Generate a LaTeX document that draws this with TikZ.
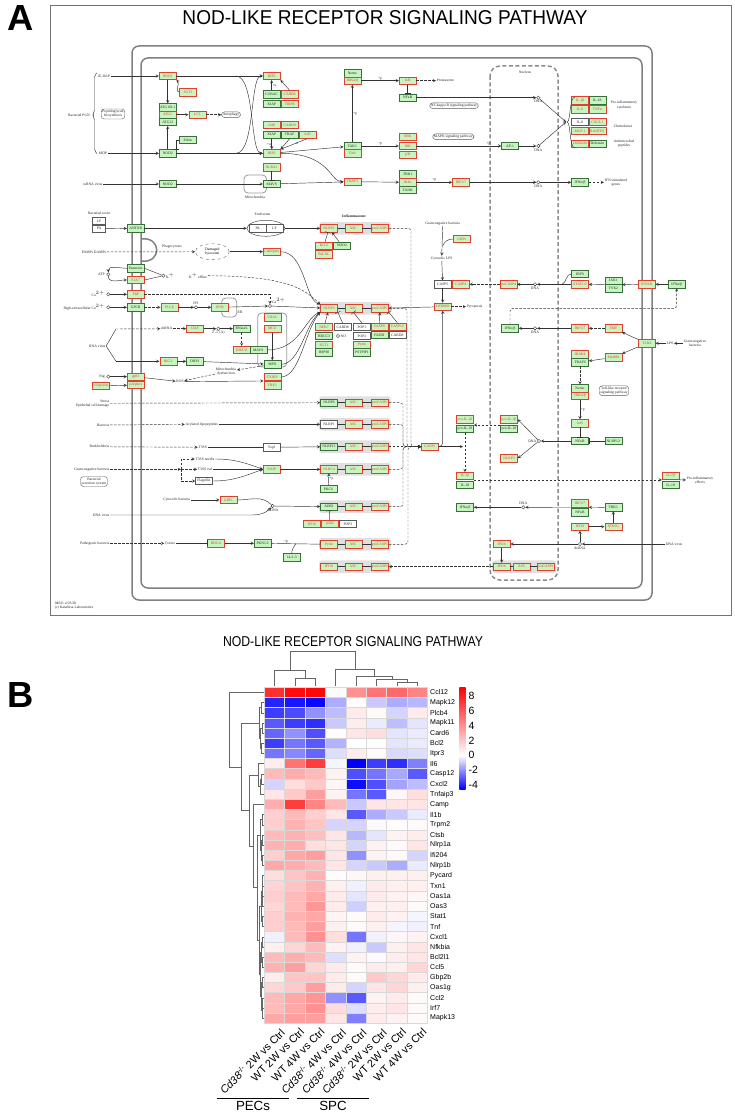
\documentclass[tikz,border=0pt]{standalone}
\usepackage{fontspec}
\setmainfont{Liberation Serif}
\newfontfamily\hsf{Liberation Sans}
\usetikzlibrary{positioning,shapes.geometric}
\definecolor{kg}{HTML}{C6F5C0}
\definecolor{kr}{HTML}{E0402F}
\definecolor{kdg}{HTML}{3A6E3A}
\newcommand{\kf}{\fontsize{3.7}{4.2}\selectfont}
\newcommand{\hmrow}[3]{%
  \foreach \hval [count=\hcol] in {#3} {%
    \pgfmathsetmacro{\hx}{264.3+(\hcol-1)*20.4}%
    \pgfmathsetmacro{\hy}{687.3+(#1-1)*10.18}%
    \ifdim\hval pt<0pt \pgfmathtruncatemacro{\hp}{min(100,-\hval*100/4.6)}\def\hc{blue}%
    \else \pgfmathtruncatemacro{\hp}{min(100,\hval*100/9.2)}\def\hc{red}\fi
    \fill[\hc!\hp!white, draw=black!15, line width=0.5] (\hx,\hy) rectangle ++(20.4,10.18);
  }%
  \node[glab] (g#1) at (430,{687.3+(#1-0.5)*10.18}) {#2};%
}
\newcommand{\dm}[5]{\draw[dend] (#1,#2) -- (#5,#2) -- (#5,#4) -- (#3,#4);}
\begin{document}
\begin{tikzpicture}[x=1pt, y=-1pt,
  gene/.style={rectangle, inner sep=0pt, minimum width=17, minimum height=7.4, font=\kf, fill=kg, line width=0.5},
  gr/.style={gene, draw=kr, text=kr},
  gg/.style={gene, draw=kdg, text=black!85},
  gw/.style={gene, fill=white, draw=black!65, text=black!85},
  lbl/.style={font=\kf, inner sep=0.6pt, align=center, text=black!85},
  pathw/.style={draw=black!65, rounded corners=3, font=\kf, align=center, inner sep=1.2pt, text=black!85},
  cpd/.style={circle, draw=black!80, fill=white, inner sep=0pt, minimum size=3.4, line width=0.4},
  arr/.style={->, >=stealth, line width=0.45, draw=black!80},
  darr/.style={arr, dash pattern=on 2.5pt off 1.5pt},
  inh/.style={-|, line width=0.45, draw=black!80},
  ln/.style={line width=0.45, draw=black!80},
  band/.style={fill=black!12, rounded corners=3},
  memb/.style={draw=black!50, line width=1.5, rounded corners=7},
  dend/.style={draw=black!60, line width=0.6},
  glab/.style={font=\hsf\fontsize{7}{8}\selectfont, anchor=west, inner sep=0pt},
  clab/.style={font=\hsf\fontsize{10.8}{12}\selectfont, rotate=45, anchor=north east, inner sep=0pt},
  cbtick/.style={font=\hsf\fontsize{10.5}{12}\selectfont, anchor=west, inner sep=0pt}
]
\useasboundingbox (0,0) rectangle (734,1113);

\draw[black!55, line width=0.7] (50,5) rectangle (731,615);
\node[anchor=base west, inner sep=0] (labA) at (7,31) {\resizebox{!}{25pt}{\hsf\bfseries A}};
\node[anchor=base, inner sep=0] (ttlA) at (385,25) {\resizebox{405pt}{14pt}{\hsf NOD-LIKE RECEPTOR SIGNALING PATHWAY}};

\draw[memb] (132,46) rectangle (652,600);
\draw[memb] (141,58) rectangle (642,588);
\draw[memb, rounded corners=0] (141,239) .. controls (162,236) and (162,264) .. (141,261);
\draw[black!45, line width=1.5, dash pattern=on 4pt off 2.5pt, rounded corners=10] (490,66) rectangle (558,580);
\node[lbl] (nuc) at (525,72) {Nucleus};
\draw[black!40, line width=0.8, rounded corners=4] (244,175) rectangle (266.5,193);
\node[lbl] (mitol) at (255,197.5) {Mitochondria};
\draw[black!40, line width=0.8, rounded corners=4] (257.7,313) rectangle (286.7,367);
\draw[black!40, line width=0.8, rounded corners=4] (221.7,298) rectangle (236.7,317);
\node[lbl] (erl) at (240,312) {ER};
\foreach \yy in {228.3,308.3,402.7,424.3,446.7,469.3,506.7,544.3,566.7}
  \fill[band] (319,\yy-6.3) rectangle (391,\yy+6.3);
\fill[band] (492,560.4) rectangle (556,573);
\node[lbl, font=\kf\bfseries] (inflam) at (354,216) {Inflammasome};

\node[lbl] (iedap) at (104,76) {iE-DAP};
\node[lbl] (bpgn) at (79,115) {Bacterial PGN};
\node[pathw] (pgbio) at (113,114) {Peptidoglycan\\biosynthesis};
\node[lbl] (mdp) at (103,153.3) {MDP};
\draw[ln, rounded corners=2] (97,73) -- (94.5,75) -- (94.5,112) -- (92,115) -- (94.5,118) -- (94.5,151) -- (97,153.5);
\node[lbl] (ssrna) at (92.7,184) {ssRNA virus};
\node[lbl] (btox) at (99,213) {Bacterial toxin};
\node[gw, minimum width=13] (lf1) at (99,221) {LF};
\node[gw, minimum width=13] (pa1) at (99,228.7) {PA};
\node[lbl] (pamps) at (94,252) {PAMPs DAMPs};
\node[lbl, anchor=east] (atp) at (105.5,274.3) {ATP};
\node[cpd] (atpc) at (108.3,274.3) {};
\node[lbl, anchor=east] (cal) at (105.5,294.3) {Ca$^{2+}$};
\node[cpd] (cac) at (108.3,294.3) {};
\node[lbl, anchor=east] (hcal) at (105.5,307.3) {High-extracellular Ca$^{2+}$};
\node[cpd] (hcac) at (108.3,307.3) {};
\node[lbl] (rnav) at (97.3,346) {RNA virus};
\node[lbl, anchor=east] (nigl) at (105.5,376.7) {Nig};
\node[cpd] (nigc) at (108.3,376.7) {};
\node[gr] (viro) at (101,386) {Viroporins};
\node[lbl, anchor=east, align=right] (stress) at (110,403.3) {Stress\\Epithelial cell damage};
\node[lbl, anchor=east] (bact) at (110,425) {Bacteria};
\node[lbl, anchor=east] (yers) at (110,446.7) {Burkholderia};
\node[lbl, anchor=east] (gneg) at (110,469.3) {Gram-negative bacteria};
\node[pathw] (bss) at (94,481.5) {Bacterial\\secretion system};
\node[lbl, anchor=east] (dnav) at (110,515) {DNA virus};
\node[lbl, anchor=east] (pathb) at (110,543.3) {Pathogenic bacteria};
\node[lbl, anchor=north west, align=left] (copy) at (54,601) {04621 4/23/20\\(c) Kanehisa Laboratories};

\node[gr] (nod1) at (167.7,76) {NOD1};
\node[gr] (sgt1a) at (188,92.3) {SGT1};
\node[gg] (atg16) at (167.7,107.3) {ATG16L1};
\node[gr] (atg5) at (167.7,114.7) {ATG5};
\node[gg] (atg12) at (167.7,122) {ATG12};
\node[gr] (lc3) at (197.3,114.7) {LC3};
\node[pathw] (autoph) at (231,114.7) {Autophagy};
\node[gg] (erbin) at (187.7,140) {Erbin};
\node[gg] (nod2a) at (167.7,153.3) {NOD2};
\node[gr] (rip2a) at (271.7,76) {RIP2};
\node[gg] (lubac) at (271.7,94.3) {LUBAC};
\node[gr] (card6) at (289.7,94.3) {CARD6};
\node[gg] (xiapa) at (271.7,104) {XIAP};
\node[gr] (trip6) at (289.7,104) {TRIP6};
\node[gr] (ciap) at (271.7,125) {cIAP};
\node[gr] (card9) at (289.7,125) {CARD9};
\node[gg] (xiapb) at (271.7,134.7) {XIAP};
\node[gg] (traf) at (289.7,134.7) {TRAF};
\node[gr] (a20) at (307.3,134.7) {A20};
\node[gr] (rip2b) at (271.7,153.3) {RIP2};
\node[gr] (nlrx1) at (271.7,167.3) {NLRX1};
\node[gg] (mavsa) at (271.7,184) {MAVS};
\node[gg] (nod2b) at (167.7,184) {NOD2};
\node[gg] (nemoa) at (352.3,73.3) {Nemo};
\node[gr] (ikka) at (352.3,80.7) {IKKα/β};
\node[gg] (tak1) at (352.3,146) {TAK1};
\node[gr] (tab) at (352.3,153.3) {TAB};
\node[gr] (traf3) at (352.3,181.7) {TRAF3};
\node[gr] (ikba) at (407.7,80.7) {IκB};
\node[lbl, anchor=west] (prot) at (436,80.7) {Proteasome};
\node[gg] (nfkba) at (407.7,97.7) {NFκB};
\node[pathw] (nfkbp) at (454,105.7) {NF-kappa B signaling pathway};
\node[cpd] (dna1) at (538.3,97.7) {};
\node[lbl, below=0pt of dna1] (dna1l) {DNA};
\node[gr] (erk) at (407.7,136.7) {ERK};
\node[gr] (jnk) at (407.7,146) {JNK};
\node[gr] (p38) at (407.7,155) {p38};
\node[pathw] (mapkp) at (453.3,136.7) {MAPK signaling pathway};
\node[gg] (ap1) at (510,146) {AP-1};
\node[cpd] (dna2) at (538.3,146) {};
\node[lbl, below=0pt of dna2] (dna2l) {DNA};
\node[gr] (il1ba) at (580,100.3) {IL-1β};
\node[gg] (il18a) at (597.3,100.3) {IL-18};
\node[gr] (il6) at (580,109.3) {IL-6};
\node[gr] (tnfa) at (597.3,109.3) {TNFα};
\node[gw] (il8) at (580,122) {IL-8};
\node[gr] (cxcl1) at (597.3,122) {CXCL1};
\node[gr] (mcp1) at (580,131) {MCP-1};
\node[gr] (rantes) at (597.3,131) {RANTES};
\node[gr] (defa) at (580,143.7) {Defensin};
\node[gg] (defb) at (597.3,143.7) {Defensin};
\node[lbl] (cyt) at (624,105) {Pro-inflammatory\\cytokines};
\node[lbl] (chem) at (623,126.7) {Chemokines};
\node[lbl] (amp) at (624,143.3) {Antimicrobial\\peptides};
\node[gg] (tbk1a) at (407.7,174.3) {TBK1};
\node[gr] (ikke) at (407.7,182.3) {IKKε};
\node[gg] (tank) at (407.7,190) {TANK};
\node[gr] (irf37a) at (461,182.3) {IRF3/7};
\node[cpd] (dna3) at (538.3,182.3) {};
\node[lbl, below=0pt of dna3] (dna3l) {DNA};
\node[gg] (ifnab1) at (580,182.3) {IFNα/β};
\node[lbl, anchor=west] (isg) at (604,182.3) {IFN stimulated\\genes};

\node[gg] (antxr) at (135.7,228.3) {ANTXR};
\node[draw=black!70, ellipse, minimum width=38, minimum height=16, inner sep=0, line width=0.5] (endo) at (266,228.3) {};
\node[gw, minimum width=16.7] (pa2) at (257.7,228.3) {PA};
\node[gw, minimum width=16.7] (lf2) at (274.4,228.3) {LF};
\node[lbl] (endol) at (262.5,214) {Endosome};
\node[gr] (bcl2) at (324,245.7) {Bcl-2};
\node[gg] (nod2c) at (342,245.7) {NOD2};
\node[gr] (bclxl) at (324,254.3) {Bcl-XL};
\node[lbl] (phag) at (172,246.7) {Phagocytosis};
\node[draw=black!60, dashed, ellipse, minimum width=34, minimum height=16, inner sep=0, font=\kf, align=center] (lyso) at (212.3,251.7) {Damaged\\lysosome};
\node[gr] (cathep) at (271.7,251.7) {Cathepsin};
\node[gg] (pannex) at (135.7,268.3) {Pannexin};
\node[gr] (p2x7) at (135.7,280) {P2X7};
\node[cpd] (kc) at (163.3,275.7) {};
\node[lbl, right=0pt of kc] (kl) {K$^+$};
\node[lbl] (keff) at (198,275.7) {K$^+$ efflux};
\node[gr] (trp) at (135.7,294.3) {TRP};
\node[gg] (gpcr) at (135.7,307.3) {GPCR};
\node[gr] (plcb) at (169.3,307.3) {PLCβ};
\node[cpd] (ip3c) at (196,307.3) {};
\node[lbl, above=0pt of ip3c] (ip3l) {IP3};
\node[gr] (ip3r) at (220,307.3) {IP3R};
\node[cpd] (ca2) at (270,306) {};
\node[lbl, above right=0pt of ca2] (ca2l) {Ca$^{2+}$};
\node[gr] (vdac) at (272.3,317.3) {VDAC};
\node[gr] (mcu) at (272.3,328.7) {MCU};
\node[lbl] (dsrna) at (166.7,328.7) {dsRNA};
\node[gr] (oas) at (195,328.7) {OAS};
\node[cpd] (c25) at (218.3,328.7) {};
\node[lbl, below=0pt of c25] (c25l) {2'-5'(A)};
\node[gg] (rnasel) at (241.7,328.7) {RNaseL};
\node[gr] (dhx33) at (241.7,350) {DHX33};
\node[gg] (mavs2) at (258.3,350) {MAVS};
\node[gr] (rigi) at (168.3,361.3) {RIG-I};
\node[gg] (drp1) at (195,361.3) {DRP1};
\node[gg] (mfn) at (272.3,364.3) {MFN};
\node[lbl] (mitodys) at (226,371.7) {Mitochondria\\dysfunction};
\node[gr] (nek7) at (324,327) {NEK7};
\node[gw] (card8) at (342.7,327) {CARD8};
\node[gw] (pop1) at (362,327) {POP1};
\node[gg] (brcc3) at (324,336) {BRCC3};
\node[cpd] (noc) at (338,336) {};
\node[lbl, right=0pt of noc] (nol) {NO};
\node[gw] (pop2) at (362,336) {POP2};
\node[gr] (sgt1b) at (324,345) {SGT1};
\node[gg] (hsp90) at (324,352.3) {HSP90};
\node[gr] (pyrina) at (362,345) {Pyrin};
\node[gg] (pstpip) at (362,352.3) {PSTPIP1};
\node[gr] (txnip) at (272.3,377) {TXNIP};
\node[gr] (trx1) at (272.3,385.3) {TRX1};
\node[gr] (gp91) at (135.7,376.7) {gp91};
\node[gr] (p22) at (135.7,385) {p22phox};
\node[lbl] (ros) at (180,381.7) {ROS};

\foreach \yy/\n/\s/\t in {228.3/1/gr/NLRP1, 308.3/2/gr/NLRP3, 402.7/3/gg/NLRP6, 424.3/4/gw/NLRP1, 446.7/5/gg/NLRP12, 469.3/6/gr/NLRC4, 506.7/7/gg/AIM2, 544.3/8/gr/Pyrin, 566.7/9/gr/IFI16} {
  \node[\s] (nl\n) at (329,\yy) {\t};
  \node[gr] (asc\n) at (353.3,\yy) {ASC};
  \node[gr] (pc\n) at (380,\yy) {proCASP1};
  \draw[ln] (nl\n) -- (asc\n) (asc\n) -- (pc\n);
}

\node[lbl] (gnb) at (442.7,224) {Gram-negative bacteria};
\node[gr] (gbps1) at (461.7,239) {GBPs};
\node[lbl] (clps) at (441.7,258.3) {Cytosolic LPS};
\node[gw] (casp5) at (442.7,284.3) {CASP5};
\node[gr] (casp4) at (460.7,284.3) {CASP4};
\node[gr] (procasp4) at (508.3,284.3) {proCASP4};
\node[cpd] (dna4) at (535,284.3) {};
\node[lbl, below=0pt of dna4] (dna4l) {DNA};
\node[gg] (irf9) at (580,274) {IRF9};
\node[gr] (stat12) at (580,284.3) {STAT1/2};
\node[gg] (jak1) at (613.3,280.7) {JAK1};
\node[gg] (tyk2) at (613.3,288.3) {TYK2};
\node[gr] (ifnar) at (646.7,284.3) {IFNAR};
\node[gg] (ifnab2) at (676.7,284.3) {IFNα/β};
\node[gr] (gsdmd) at (442.7,306.7) {GSDMD};
\node[lbl, anchor=west] (pyro) at (466,306.7) {Pyroptosis};
\node[gr] (casp8) at (379.3,326.7) {CASP8};
\node[gg] (fadd) at (379.3,335) {FADD};
\node[gr] (casp12) at (397.3,326.7) {CASP12};
\node[gw] (card8b) at (397.3,335) {CARD8};
\node[gg] (ifnab3) at (510,328.3) {IFNα/β};
\node[cpd] (dna5) at (535,328.3) {};
\node[lbl, below=0pt of dna5] (dna5l) {DNA};
\node[gr] (irf37b) at (580,328.3) {IRF3/7};
\node[gr] (trif) at (613.3,328.3) {TRIF};
\node[gr] (tlr4) at (646.7,343.3) {TLR4};
\node[lbl] (lps) at (670,343.3) {LPS};
\node[lbl, anchor=west] (gnb2) at (683,343.3) {Gram-negative\\bacteria};
\node[gr] (irak4) at (580,354.3) {IRAK4};
\node[gg] (traf6) at (580,362.3) {TRAF6};
\node[gr] (myd88) at (613.3,357.3) {MyD88};

\node[gg] (nemob) at (580,388.3) {Nemo};
\node[gr] (ikkb) at (580,396) {IKKα/β};
\node[pathw] (tlrp) at (614,390.7) {Toll-like receptor\\signaling pathway};
\node[gr] (ikbb) at (580,423.3) {IκB};
\node[gg] (nfkbb) at (580,441) {NFκB};
\node[gg] (nlrp12b) at (613.3,441) {NLRP12};
\node[cpd] (dna6) at (539,441) {};
\node[lbl, left=0pt of dna6] (dna6l) {DNA};
\node[gr] (proil1ba) at (509,419.3) {pro-IL-1β};
\node[gg] (proil18a) at (509,429) {pro-IL-18};
\node[gr] (nlrp3b) at (509,458.3) {NLRP3};
\node[gr] (proil1bb) at (465,419.3) {pro-IL-1β};
\node[gg] (proil18b) at (465,429) {pro-IL-18};
\node[gr] (casp1) at (430,446.7) {CASP1};
\node[gr] (il1bb) at (465,476) {IL-1β};
\node[gg] (il18b) at (465,485) {IL-18};
\node[gr] (il1bc) at (670.7,476) {IL-1β};
\node[gg] (il18c) at (670.7,485) {IL-18};
\node[lbl, anchor=west] (proeff) at (686,480) {Pro-inflammatory\\effects};
\node[gg] (ifnab4) at (465,507.3) {IFNα/β};
\node[cpd] (dna7) at (523.3,507.3) {};
\node[lbl, above=0pt of dna7] (dna7l) {DNA};
\node[gr] (irf37c) at (580,503.3) {IRF3/7};
\node[gg] (nfkbc) at (580,512.3) {NFκB};
\node[gg] (tbk1b) at (613.3,507.3) {TBK1};
\node[gr] (ifi16a) at (580,526.7) {IFI16};
\node[gr] (sting) at (613.3,526.7) {STING};
\node[cpd] (dsdna2) at (580,544) {};
\node[lbl, below=0pt of dsdna2] (dsdna2l) {dsDNA};
\node[lbl, anchor=west] (dnav2) at (665,544) {DNA virus};
\node[gr] (ifi16b) at (501.7,544) {IFI16};
\node[gr] (ifi16c) at (501.7,566.7) {IFI16};
\node[gr] (asc10) at (521.7,566.7) {ASC};
\node[gr] (pc10) at (545.7,566.7) {proCASP1};

\node[lbl] (acyl) at (201.7,424.3) {Acylated lipopeptides};
\node[lbl] (t3ss) at (202.7,447.3) {T3SS};
\node[gw] (yopj) at (271.7,447.3) {YopJ};
\node[lbl] (t3n) at (205,459) {T3SS needle};
\node[lbl] (t3r) at (205,469.3) {T3SS rod};
\node[gw] (flag) at (204,481) {Flagellin};
\node[gr] (naip) at (271.7,469.3) {NAIP};
\node[gg] (pkcd) at (328.3,489) {PKCδ};
\node[lbl] (cbact) at (176.7,500) {Cytosolic bacteria};
\node[gr] (gbps2) at (228.3,500) {GBPs};
\node[cpd] (dsdna1) at (272.7,506) {};
\node[lbl, below=0pt of dsdna1] (dsdna1l) {dsDNA};
\node[gr] (ifi16d) at (312.2,524) {IFI16};
\node[gr] (p202) at (330,524) {p202};
\node[gw] (pop3) at (348,524) {POP3};
\node[lbl] (toxins) at (170,543.3) {Toxins};
\node[gr] (rhoa) at (216,543.3) {RHOA};
\node[gg] (pkn) at (262.7,543.3) {PKN1/2};
\node[gg] (p1433) at (291.7,557.3) {14-3-3};

\draw[arr] (iedap) -- (nod1);
\draw[arr] (nod1) -- (rip2a);
\draw[arr] (mdp) -- (nod2a);
\draw[arr] (nod2a) -- (rip2b);
\draw[arr] (nod1) -- (atg16);
\draw[arr] (nod2a) -- (atg12);
\draw[arr] (sgt1a.west) to[out=180,in=-45] (nod1.south east);
\draw[arr] (atg5) -- (lc3);
\draw[darr] (lc3) -- (autoph);
\draw[inh] (erbin.west) -| (nod2a.north east);
\coordinate (xa) at (236,76);
\coordinate (xb) at (236,153.3);
\draw[arr] (xa) .. controls (255,76) and (250,153.3) .. (rip2b.west);
\draw[arr] (xb) .. controls (255,153.3) and (250,76) .. (rip2a.west);
\draw[arr] (lubac) -- node[lbl, right] (pu1) {+u} (rip2a);
\draw[arr] (card6.north) -- (rip2a.south east);
\draw[arr] (xiapb) -- node[lbl, left] (pu2) {+u} (rip2b);
\draw[arr] (traf.south) -- (rip2b.north east);
\draw[arr] (a20.south) -- node[lbl, right] (pu3) {-u} (rip2b.north east);
\draw[arr] (ssrna) -- (nod2b);
\draw[arr] (nod2b) -- (mavsa);
\draw[inh] (nlrx1) -- (mavsa);
\draw[arr] (rip2b) -- (tak1);
\draw[arr] (rip2b.east) .. controls (330,153.3) and (330,181.7) .. (traf3.west);
\draw[arr] (mavsa) -- (traf3);
\draw[arr] (tak1) -- node[lbl, right] (pp1) {+p} (ikka);
\draw[arr] (ikka) -- node[lbl, above] (pp2) {+p} (ikba);
\draw[darr] (ikba) -- (prot);
\draw[inh] (ikba) -- (nfkba);
\draw[arr] (nfkba) -- (dna1);
\draw[arr] (tak1) -- node[lbl, above] (pp3) {+p} (jnk);
\draw[arr] (jnk) -- node[lbl, above, pos=0.85] (pp4) {+p} (ap1);
\draw[arr] (ap1) -- (dna2);
\coordinate (ckb) at (566,122);
\draw[arr] (dna1) -- (ckb);
\draw[arr] (dna2) -- (ckb);
\draw[ln] (575,97) .. controls (569,97) and (571,122) .. (567,122) .. controls (571,122) and (569,148) .. (575,148);
\draw[arr] (traf3) -- (ikke);
\draw[arr] (ikke) -- node[lbl, above] (pp5) {+p} (irf37a);
\draw[arr] (irf37a) -- (dna3);
\draw[arr] (dna3) -- (ifnab1);
\draw[darr] (ifnab1) -- (isg);

\draw[arr] (pa1) -- (antxr);
\draw[arr] (antxr) -- (endo);
\draw[arr] (endo) -- (nl1);
\draw[inh] (bcl2) -- (nl1);
\draw[arr] (nod2c) -- (nl1);
\draw[darr] (pamps) -- (lyso);
\draw[arr] (lyso) -- (cathep);
\draw[arr] (cathep.east) .. controls (305,251.7) and (305,300) .. (nl2.north west);
\draw[arr] (pannex.west) to[out=180,in=90] (atpc);
\draw[arr] (atpc) to[out=-90,in=180] (p2x7.west);
\draw[ln] (pannex.east) -- (kc);
\draw[ln] (p2x7.east) -- (kc);
\draw[darr] (keff.east) .. controls (290,276) and (305,290) .. (nl2.north west);
\draw[arr] (cac) -- (trp);
\draw[darr] (trp) -| (ca2);
\draw[arr] (hcac) -- (gpcr);
\draw[darr] (gpcr) -- (plcb);
\draw[arr] (plcb) -- (ip3c);
\draw[arr] (ip3c) -- (ip3r);
\draw[arr] (ip3r) -- (ca2);
\draw[arr] (ca2) -- (nl2);
\draw[darr] (dsrna) -- (oas);
\draw[arr] (oas) -- (c25);
\draw[arr] (c25) -- (rnasel);
\draw[darr] (rnasel) -- (dhx33);
\draw[arr] (mavs2.east) .. controls (300,350) and (305,318) .. (nl2.south west);
\draw[arr] (mcu) -- (mfn);
\draw[arr] (rigi) -- (drp1);
\draw[arr] (drp1) -- (mfn);
\draw[darr] (mfn) -- (mitodys);
\draw[darr] (mitodys) -- (ros);
\draw[arr] (gp91) -- (ros);
\draw[arr] (ros) -- (txnip.south west);
\draw[arr] (txnip.east) .. controls (300,377) and (305,330) .. (nl2.south west);
\draw[arr] (mfn.east) .. controls (300,364) and (305,325) .. (nl2.south west);
\draw[arr] (nigc) -- (gp91);
\draw[arr] (viro) -- (p22);
\coordinate (rv1) at (116,329);
\coordinate (rv2) at (116,361.3);
\draw[ln] (rv1) -- (rnav.east) -- (rv2);
\draw[darr] (rv1) -- (dsrna);
\draw[arr] (rv2) -- (rigi);
\draw[arr] (nek7) -- (nl2);
\draw[inh] (card8.north) -- (nl2.south east);
\draw[inh] (pop1.north) -- (asc2.south);
\draw[arr] (casp8) -- (pc2);
\draw[inh] (casp12.north) -- (pc2.south east);

\draw[arr] (gnb) -- (clps);
\coordinate (gj) at (442.7,246);
\draw[ln] (gbps1.west) to[out=180,in=70] (gj);
\draw[arr] (clps) -- (casp5);
\draw[arr] (casp5) -- (gsdmd);
\draw[darr] (gsdmd) -- (pyro);
\draw[arr] (gsdmd) -- (pc2);
\draw[darr] (procasp4) -- (casp4);
\draw[arr] (dna4) -- (procasp4);
\draw[arr] (stat12) -- (dna4);
\draw[ln] (irf9.west) to[out=180,in=30] ([xshift=-9pt]stat12.west);
\draw[arr] (ifnab2) -- (ifnar);
\draw[arr] (ifnar) -- (jak1.south east);
\draw[arr] (jak1.south west) -- (stat12);
\draw[arr] (gnb2) -- (lps);
\draw[arr] (lps) -- (tlr4);
\draw[arr] (tlr4) -- (trif);
\draw[darr] (trif) -- (irf37b);
\draw[arr] (irf37b) -- (dna5);
\draw[arr] (dna5) -- (ifnab3);
\draw[darr, rounded corners=3] (ifnab3.north) -- ++(0,-16) -| (ifnab2.south);
\draw[arr] (tlr4) -- (myd88);
\draw[arr] (myd88) -- (traf6);
\draw[darr] (traf6) -- (nemob);
\draw[arr] (ikkb) -- node[lbl, right] (pp6) {+p} (ikbb);
\draw[inh] (ikbb) -- (nfkbb);
\draw[inh] (nlrp12b) -- (nfkbb);
\draw[arr] (nfkbb) -- (dna6);
\draw[arr] (dna6) -- (proil1ba.east);
\draw[arr] (dna6) -- (nlrp3b.east);
\draw[darr] (proil18a.north west) -- (proil18b.north east);
\foreach \n/\xx in {1/411,2/407,3/403,4/403,6/403,7/403,8/408}
  \draw[darr, rounded corners=3] (pc\n.east) -| (\xx,446.7) -- (casp1.west);
\draw[darr] (pc5) -- (casp1);
\draw[arr, rounded corners=4] (casp1.east) -| (gsdmd.south);
\coordinate (cl) at (463,446.7);
\draw[arr] (casp1) -- (cl);
\draw[darr] (proil18b) -- (il1bb);
\draw[darr] (il1bb.south east) -- (il1bc.south west);
\draw[arr] (il1bc.south east) -- (proeff);
\draw[arr] (dnav2) -- (dsdna2);
\draw[arr] (dsdna2) -- (ifi16a);
\draw[arr] (dsdna2) -- (ifi16b);
\draw[arr] (ifi16a) -- (sting);
\draw[arr] (sting) -- (tbk1b);
\draw[arr] (tbk1b) -- (irf37c.south east);
\draw[arr] (irf37c.south west) -- (dna7);
\draw[arr] (dna7) -- (ifnab4);
\draw[arr] (ifi16b) -- (ifi16c);
\draw[darr] (ifi16c) -- (pc9);
\draw[ln] (ifi16c) -- (asc10) (asc10) -- (pc10);

\draw[darr] (stress) -- (nl3);
\draw[darr] (bact) -- (acyl);
\draw[arr] (acyl) -- (nl4);
\draw[darr] (yers) -- (t3ss);
\draw[ln] (t3ss) -- (yopj);
\draw[arr] (yopj) -- (nl5);
\coordinate (gsp) at (181,469.3);
\draw[darr] (gneg) -- (gsp);
\draw[darr] (gsp) |- (t3n);
\draw[darr] (gsp) -- (t3r);
\draw[darr] (gsp) |- (flag);
\draw[arr] (t3n.east) to[out=0,in=160] (naip.west);
\draw[arr] (t3r) -- (naip);
\draw[arr] (flag.east) to[out=0,in=200] (naip.west);
\draw[arr] (naip) -- (nl6);
\draw[arr] (pkcd) -- node[lbl, right] (pp7) {+p} (nl6);
\draw[arr] (cbact) -- (gbps2);
\draw[ln] (gbps2.east) to[out=0,in=135] (dsdna1);
\coordinate (dvc) at (252,515);
\draw[arr] (dnav) -- (dvc) to[out=0,in=-135] (dsdna1);
\draw[arr] (dsdna1) -- (nl7);
\draw[inh] (p202) -- (nl7);
\draw[darr] (pathb) -- (toxins);
\draw[inh] (toxins) -- (rhoa);
\draw[arr] (rhoa) -- (pkn);
\draw[inh] (pkn) -- node[lbl, above, pos=0.3] (pp8) {+p} (nl8);
\coordinate (pk) at (296,543.3);
\draw[ln] (p1433.north) to[out=90,in=-120] (pk);

\node[anchor=base west, inner sep=0] (labB) at (7,707) {\resizebox{!}{25pt}{\hsf\bfseries B}};
\node[anchor=base, inner sep=0] (ttlB) at (353,646.7) {\resizebox{260pt}{10pt}{\hsf NOD-LIKE RECEPTOR SIGNALING PATHWAY}};

\hmrow{1}{Ccl12}{7.5,8.8,9,0.2,4,5,5.5,4.5}
\hmrow{2}{Mapk12}{-4,-4.2,-4.5,-1.5,0.1,-1,-1.5,-1.3}
\hmrow{3}{Plcb4}{-3.5,-3.3,-2,-1.2,0.8,0.2,-0.8,0.8}
\hmrow{4}{Mapk11}{-3,-3.5,-3.8,-1,0.7,-0.4,-1.2,-0.5}
\hmrow{5}{Card6}{-2.8,-2,-3.2,0.1,1,1.2,-0.5,-0.4}
\hmrow{6}{Bcl2}{-3.5,-2.5,-3,-1.4,0,0.1,-0.5,-0.4}
\hmrow{7}{Itpr3}{-2.5,-2.2,-2.8,-0.6,0.7,0.2,-0.7,-0.6}
\hmrow{8}{Il6}{0.7,5,7,-0.2,-4.6,-3.5,-3.8,-2.3}
\hmrow{9}{Casp12}{2.5,3,2.5,0.5,-3.2,-2.5,-1.6,-3}
\hmrow{10}{Cxcl2}{-0.8,1.2,2,0.3,-4.4,-3.2,-1.7,-1.2}
\hmrow{11}{Tnfaip3}{1,2,3.5,0.5,-2.5,-3,0.3,1.2}
\hmrow{12}{Camp}{3,7,4.5,2.5,-1,1,1,1}
\hmrow{13}{Il1b}{1.8,2.5,1.8,1,-3,-1.5,-1,-0.4}
\hmrow{14}{Trpm2}{1.8,2.8,2.2,-0.8,-0.8,-0.1,0.1,0.2}
\hmrow{15}{Ctsb}{2.5,2.8,2.3,1,-1.3,-0.5,0.5,0.7}
\hmrow{16}{Nlrp1a}{2.8,3,1.2,1,-0.8,0.5,0.2,1}
\hmrow{17}{Ifi204}{1.8,3.2,3.5,1,-2,0.5,0.2,-0.8}
\hmrow{18}{Nlrp1b}{3.2,3,2.5,1,-0.8,-1,-1.5,-0.4}
\hmrow{19}{Pycard}{1.2,2.2,2.8,0.1,0.3,0.6,0.6,0.6}
\hmrow{20}{Txn1}{1.6,2.2,2.8,0.6,-0.3,0.8,0.6,0.6}
\hmrow{21}{Oas1a}{1.8,2.5,3.2,0.8,-0.5,0.8,0.5,0.3}
\hmrow{22}{Oas3}{1.5,2.5,3.8,0.8,-0.9,0.6,0.6,0.2}
\hmrow{23}{Stat1}{1.8,2.8,3.2,0.4,0.2,0.8,0.5,-0.2}
\hmrow{24}{Tnf}{1.8,2.5,3.5,0.6,0.2,0.6,-0.2,-0.3}
\hmrow{25}{Cxcl1}{-0.3,2.5,4,1.2,-2.5,-0.3,0.3,0.5}
\hmrow{26}{Nfkbia}{0.6,1.5,2.5,0.5,-0.3,-1,0.6,1}
\hmrow{27}{Bcl2l1}{2.5,3,2.5,-0.6,0.5,-0.1,0.7,1}
\hmrow{28}{Ccl5}{2.8,3.5,1.5,0.8,0.2,0.8,0.6,1.5}
\hmrow{29}{Gbp2b}{0.7,2.2,2.2,0.8,0.2,2,1.5,0.8}
\hmrow{30}{Oas1g}{1.5,2,3.5,0.8,-0.8,1,1.5,0.6}
\hmrow{31}{Ccl2}{2.5,3.2,3.8,-2,-3,0.5,0.8,0.2}
\hmrow{32}{Irf7}{2.5,3.2,4,1.3,-0.6,0.7,1,0.2}
\hmrow{33}{Mapk13}{3.2,3.5,3.5,1,-2.3,0.8,0.5,0.2}

\draw[dend] (294.9,686) -- (294.9,678.3) -- (315.3,678.3) -- (315.3,686);
\draw[dend] (274.5,686) -- (274.5,670.7) -- (305.1,670.7) -- (305.1,678.3);
\draw[dend] (396.9,686) -- (396.9,682.7) -- (417.3,682.7) -- (417.3,686);
\draw[dend] (376.5,686) -- (376.5,679.3) -- (407.1,679.3) -- (407.1,682.7);
\draw[dend] (356.1,686) -- (356.1,676) -- (391.8,676) -- (391.8,679.3);
\draw[dend] (335.7,686) -- (335.7,669.3) -- (374,669.3) -- (374,676);
\draw[dend] (289.8,670.7) -- (289.8,651.7) -- (354.8,651.7) -- (354.8,669.3);

\dm{264}{702.6}{264}{712.8}{261.5}
\dm{264}{723.0}{264}{733.1}{261.8}
\dm{264}{743.3}{264}{753.5}{261.5}
\dm{261.8}{728.05}{261.5}{748.4}{260.5}
\dm{261.5}{707.7}{260.5}{738.2}{259.5}
\dm{264}{773.9}{264}{784.1}{261}
\dm{261}{779}{264}{794.2}{260}
\dm{264}{763.7}{260}{786.6}{258}
\dm{264}{814.6}{264}{824.8}{262}
\dm{264}{835.0}{264}{845.1}{262.3}
\dm{264}{855.3}{264}{865.5}{262}
\dm{262.3}{840.05}{262}{860.4}{261.3}
\dm{262}{819.7}{261.3}{850.2}{260.3}
\dm{264}{875.7}{264}{885.9}{262.5}
\dm{264}{896.0}{264}{906.2}{262.5}
\dm{262.5}{880.8}{262.5}{901.1}{261.8}
\dm{264}{916.4}{264}{926.6}{262.5}
\dm{261.8}{891}{262.5}{921.5}{261.2}
\dm{264}{936.8}{264}{947.0}{262}
\dm{264}{957.1}{264}{967.3}{262.3}
\dm{262}{941.9}{262.3}{962.2}{261.3}
\dm{264}{977.5}{264}{987.7}{262.3}
\dm{264}{997.9}{264}{1008.0}{262.5}
\dm{262.5}{1003}{264}{1018.2}{261.8}
\dm{262.3}{982.6}{261.8}{1010.6}{261}
\dm{261.3}{952}{261}{996.6}{260.5}
\dm{261.2}{906.2}{260.5}{974.3}{259.5}
\dm{260.3}{835}{259.5}{940.3}{257.5}
\dm{264}{804.4}{257.5}{887.6}{253.3}
\dm{258}{775.2}{253.3}{846}{249.3}
\dm{259.5}{723}{249.3}{810.6}{241.7}
\dm{264}{692.4}{241.7}{766.8}{229.3}

\shade[top color=red, bottom color=white] (459.3,687.3) rectangle (465.7,755.3);
\shade[top color=white, bottom color=blue] (459.3,755.3) rectangle (465.7,789.3);
\foreach \tv in {8,6,4,2,0,-2,-4}
  \node[cbtick] (cb\tv) at (468.5,{755.3-\tv*7.4}) {\tv};

\foreach \t [count=\i] in {{\textit{Cd38}\textsuperscript{-/-} 2W vs Ctrl},{WT 2W vs Ctrl},{WT 4W vs Ctrl},{\textit{Cd38}\textsuperscript{-/-} 4W vs Ctrl},{\textit{Cd38}\textsuperscript{-/-} 4W vs Ctrl},{\textit{Cd38}\textsuperscript{-/-} 2W vs Ctrl},{WT 2W vs Ctrl},{WT 4W vs Ctrl}}
  \node[clab] (cl\i) at ({264.3+20.4*(\i-0.5)+4.5},1027) {\t};

\draw[line width=1] (216.7,1098.3) -- (289,1098.3);
\draw[line width=1] (297.3,1098.3) -- (369.3,1098.3);
\node[font=\hsf\fontsize{13.3}{14}\selectfont, anchor=base, inner sep=0] (pecs) at (253,1110.5) {PECs};
\node[font=\hsf\fontsize{13.3}{14}\selectfont, anchor=base, inner sep=0] (spc) at (333,1110.5) {SPC};
\end{tikzpicture}
\end{document}
